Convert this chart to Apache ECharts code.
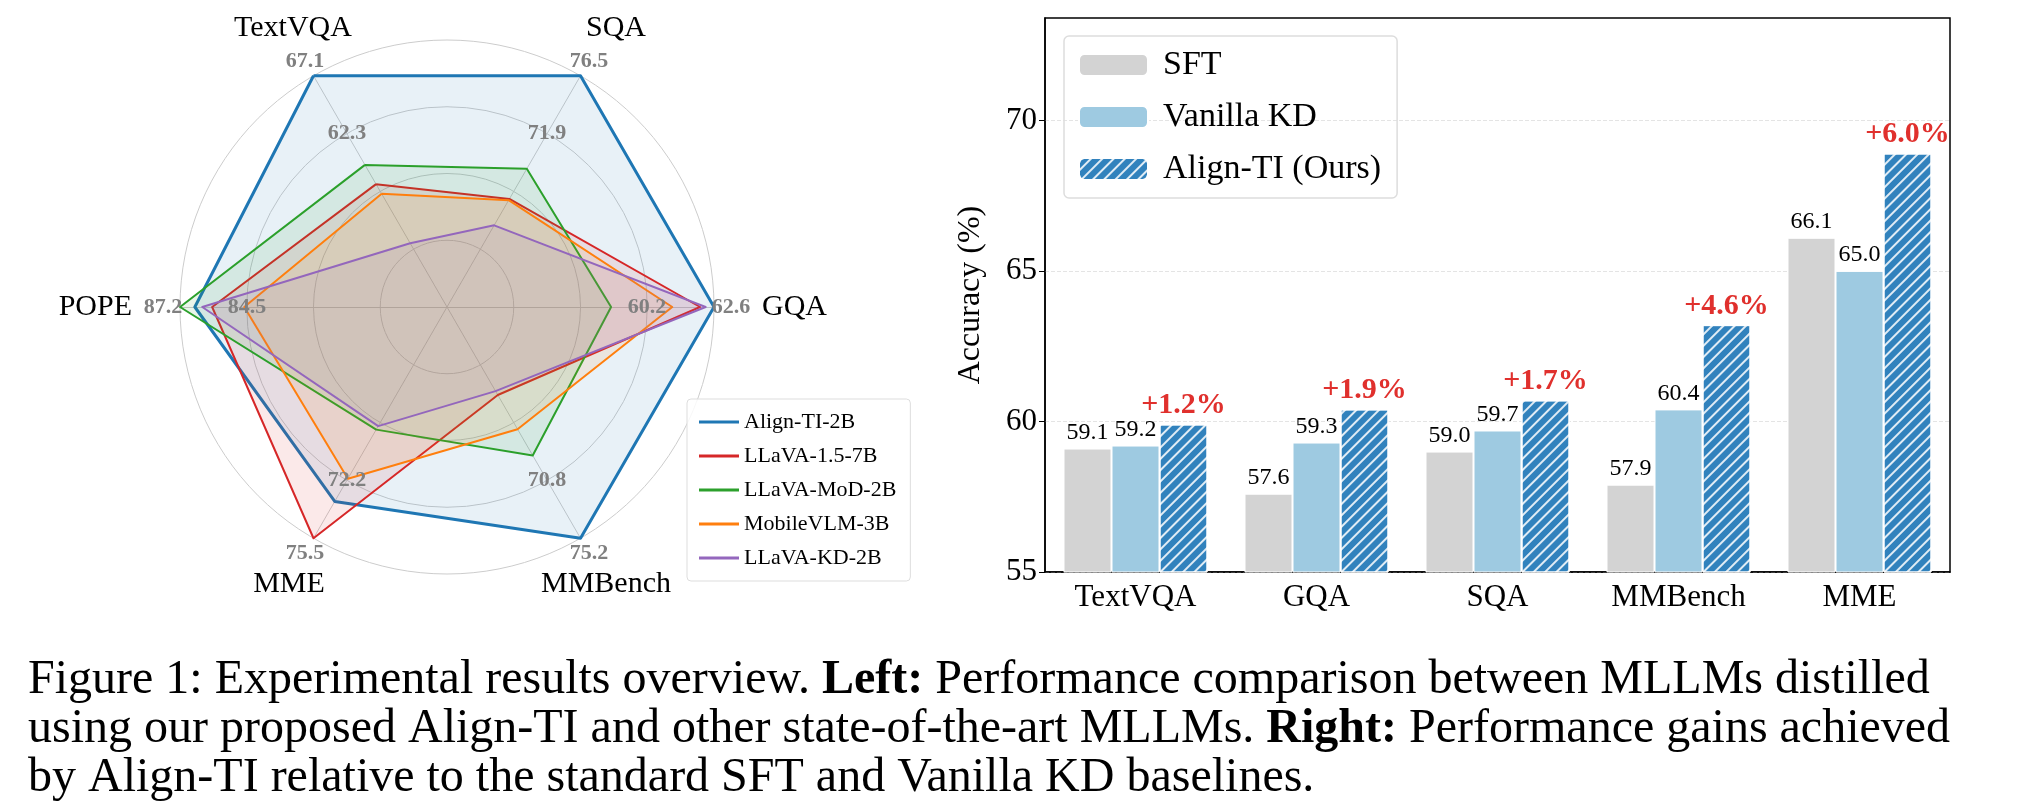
<!DOCTYPE html>
<html>
<head>
<meta charset="utf-8">
<script src="https://cdn.jsdelivr.net/npm/echarts@6/dist/echarts.min.js"></script>
<style>
  html, body { margin: 0; padding: 0; background: #fff; }
  #chart { width: 2018px; height: 804px; }
</style>
</head>
<body>
<div id="chart"></div>
<script>
// Radar (left): axes in drawing order, counter-clockwise from upper-left
var radarAxes = ['TextVQA', 'POPE', 'MME', 'MMBench', 'GQA', 'SQA'];
var radarMin = [47.9, 76.4, 62.3, 57.6, 53.0, 58.1];
var radarMax = [67.1, 87.2, 75.5, 75.2, 62.6, 76.5];
var tickInner = ['62.3', '84.5', '72.2', '70.8', '60.2', '71.9'];
var tickOuter = ['67.1', '87.2', '75.5', '75.2', '62.6', '76.5'];
var radarModels = ['Align-TI-2B', 'LLaVA-1.5-7B', 'LLaVA-MoD-2B', 'MobileVLM-3B', 'LLaVA-KD-2B'];
var radarColors = ['#1f77b4', '#d62728', '#2ca02c', '#ff7f0e', '#9467bd'];
var alignTI2B = [67.1, 86.6, 73.4, 75.2, 62.6, 76.5];
var llava15 = [58.1, 85.9, 75.5, 64.3, 62.1, 66.7];
var llavaMoD = [59.7, 87.2, 69.3, 68.9, 58.9, 69.1];
var mobileVLM = [57.3, 84.6, 72.1, 66.9, 61.1, 66.6];
var llavaKD = [53.2, 86.3, 69.1, 64.0, 62.3, 64.6];

// Bars (right)
var barCategories = ['TextVQA', 'GQA', 'SQA', 'MMBench', 'MME'];
var sft = [59.1, 57.6, 59.0, 57.9, 66.1];
var vanillaKD = [59.2, 59.3, 59.7, 60.4, 65.0];
var alignTI = [59.9, 60.4, 60.7, 63.2, 68.9];
var gains = ['+1.2%', '+1.9%', '+1.7%', '+4.6%', '+6.0%'];

var serif = '"Liberation Serif", "Times New Roman", serif';
var cx = 447, cy = 307, R = 267;
var angles = [120, 180, 240, 300, 0, 60];

var dom = document.getElementById('chart');
var myChart = echarts.init(dom, null, { renderer: 'canvas' });

var graphics = [];
// tick value labels along each radar axis
angles.forEach(function (a, i) {
  var rad = a * Math.PI / 180;
  [[200, tickInner[i]], [284, tickOuter[i]]].forEach(function (t) {
    graphics.push({
      type: 'text', z: 100,
      x: cx + t[0] * Math.cos(rad), y: cy - t[0] * Math.sin(rad),
      style: {
        text: t[1], fill: '#808080', font: 'bold 22px ' + serif,
        align: 'center', verticalAlign: 'middle'
      }
    });
  });
});
// axis names
var namePos = [
  [293, 28, 'center'], [132, 307, 'right'], [289, 584, 'center'],
  [606, 584, 'center'], [762, 307, 'left'], [616, 28, 'center']
];
radarAxes.forEach(function (n, i) {
  graphics.push({
    type: 'text', x: namePos[i][0], y: namePos[i][1],
    style: { text: n, fill: '#000', font: '30px ' + serif, align: namePos[i][2], verticalAlign: 'middle' }
  });
});
// caption
graphics.push({
  type: 'text', x: 28, y: 656,
  style: {
    text: 'Figure 1: Experimental results overview. {b|Left:} Performance comparison between MLLMs distilled\n' +
      'using our proposed Align-TI and other state-of-the-art MLLMs. {b|Right:} Performance gains achieved\n' +
      'by Align-TI relative to the standard SFT and Vanilla KD baselines.',
    fill: '#000', font: '48px ' + serif, lineHeight: 49,
    rich: { b: { font: 'bold 48px ' + serif, lineHeight: 49 } }
  }
});

var radarSeriesData = [alignTI2B, llava15, llavaMoD, mobileVLM, llavaKD].map(function (v, i) {
  return {
    name: radarModels[i],
    value: v,
    lineStyle: { color: radarColors[i], width: i === 0 ? 3 : 2 },
    itemStyle: { color: radarColors[i] },
    areaStyle: { color: radarColors[i], opacity: 0.1 }
  };
});

var option = {
  animation: false,
  textStyle: { fontFamily: serif },
  legend: [
    {
      data: radarModels,
      orient: 'vertical',
      left: 687, top: 399,
      itemWidth: 40, itemHeight: 3, itemGap: 12,
      icon: 'rect',
      padding: [12, 14, 12, 12],
      borderColor: '#dddddd', borderWidth: 1, borderRadius: 4,
      backgroundColor: 'rgba(255,255,255,0.85)',
      textStyle: { fontFamily: serif, fontSize: 22, color: '#000' }
    },
    {
      data: ['SFT', 'Vanilla KD', 'Align-TI (Ours)'],
      orient: 'vertical',
      left: 1064, top: 36,
      itemWidth: 69, itemHeight: 22, itemGap: 18,
      padding: [12, 16, 12, 14],
      borderColor: '#dddddd', borderWidth: 1.5, borderRadius: 5,
      textStyle: { fontFamily: serif, fontSize: 34, color: '#000', padding: [0, 0, 0, 10] }
    }
  ],
  radar: {
    center: [cx, cy],
    radius: R,
    startAngle: 120,
    splitNumber: 4,
    shape: 'circle',
    indicator: radarAxes.map(function (n, i) { return { name: n, min: radarMin[i], max: radarMax[i] }; }),
    axisName: { show: false },
    axisLine: { lineStyle: { color: '#cccccc', width: 1 } },
    splitLine: { lineStyle: { color: '#cccccc', width: 1 } },
    splitArea: { show: false },
    axisLabel: { show: false }
  },
  grid: {
    left: 1045, right: 68, top: 18, bottom: 804 - 572,
    show: true, borderColor: '#000', borderWidth: 1.5
  },
  xAxis: {
    type: 'category',
    data: barCategories,
    axisLine: { lineStyle: { color: '#000', width: 1.5 } },
    axisTick: { show: true, alignWithLabel: true, inside: true, length: 5, lineStyle: { color: '#bbb' } },
    axisLabel: { fontFamily: serif, fontSize: 31, color: '#000', margin: 10 }
  },
  yAxis: {
    type: 'value',
    min: 55, max: 73.4, interval: 5,
    name: 'Accuracy (%)',
    nameLocation: 'middle', nameGap: 58,
    nameTextStyle: { fontFamily: serif, fontSize: 32, color: '#000' },
    axisLine: { show: true, lineStyle: { color: '#000', width: 1.5 } },
    axisTick: { show: true, length: 6, lineStyle: { color: '#000' } },
    axisLabel: { fontFamily: serif, fontSize: 31, color: '#000', showMaxLabel: false },
    splitLine: { show: true, showMaxLine: false, lineStyle: { color: '#e4e4e4', type: 'dashed' } }
  },
  series: [
    {
      type: 'radar',
      symbol: 'none',
      data: radarSeriesData
    },
    {
      name: 'SFT', type: 'bar', data: sft, barWidth: 48, barGap: '0%',
      itemStyle: { color: '#d3d3d3', borderColor: '#fff', borderWidth: 1 },
      label: { show: true, position: 'top', distance: 4, fontFamily: serif, fontSize: 24, color: '#000', formatter: function (p) { return p.value.toFixed(1); } }
    },
    {
      name: 'Vanilla KD', type: 'bar', data: vanillaKD, barWidth: 48, barGap: '0%',
      itemStyle: { color: '#9ecae1', borderColor: '#fff', borderWidth: 1 },
      label: { show: true, position: 'top', distance: 4, fontFamily: serif, fontSize: 24, color: '#000', formatter: function (p) { return p.value.toFixed(1); } }
    },
    {
      name: 'Align-TI (Ours)', type: 'bar', data: alignTI, barWidth: 48, barGap: '0%',
      itemStyle: {
        color: '#3182bd', borderColor: '#fff', borderWidth: 1,
        decal: {
          symbol: 'rect', symbolSize: 1,
          dashArrayX: [1, 0], dashArrayY: [2, 6],
          rotation: -Math.PI / 4,
          color: 'rgba(255,255,255,0.85)'
        }
      },
      label: {
        show: true, position: 'top', distance: 4, fontFamily: serif, fontSize: 30,
        fontWeight: 'bold', color: '#e0302d',
        formatter: function (p) { return gains[p.dataIndex]; }
      }
    }
  ],
  graphic: graphics
};

if (option && typeof option === 'object') {
  myChart.setOption(option);
}

window.addEventListener('resize', myChart.resize);
</script>
</body>
</html>
